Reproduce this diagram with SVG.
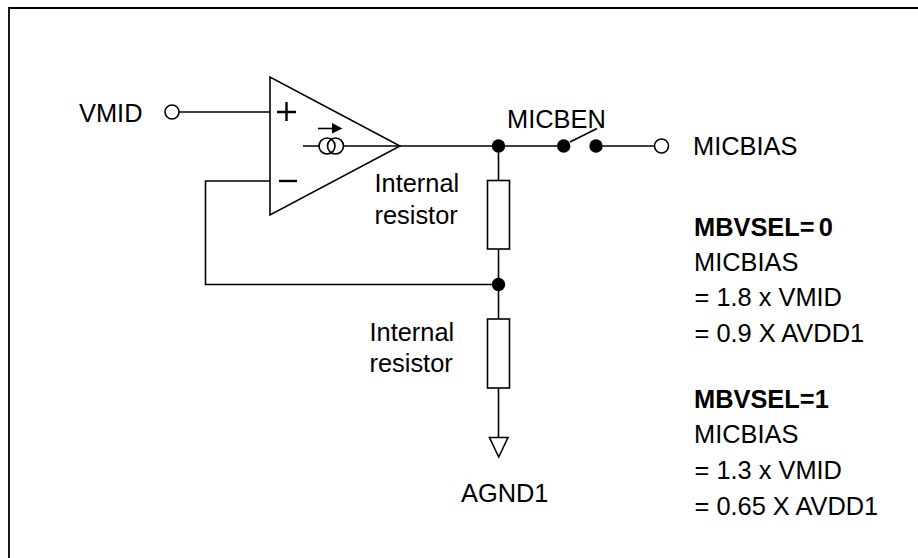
<svg xmlns="http://www.w3.org/2000/svg" width="918" height="558" viewBox="0 0 918 558">
<style>
.l{fill:none;stroke:#000;stroke-width:1.6}
.t{fill:none;stroke:#000;stroke-width:2.4}
.o{fill:#fff;stroke:#000;stroke-width:1.6}
.d{fill:#000}
text{font-family:"Liberation Sans",Arial,sans-serif;font-size:25.4px;fill:#000}
.b{font-weight:bold}
</style>
<rect width="918" height="558" fill="#fff"/>
<path class="l" d="M9 558V8H918" style="stroke-width:1.8"/>
<g id="connectors">
<path class="l" d="M179 112H270"/>
<path class="l" d="M270 181H205.500V284.500H499"/>
<path class="l" d="M303 146H319M344 146H400"/>
<path class="l" d="M400 146H563"/>
<path class="l" d="M596 146H654"/>
<path class="l" d="M498.500 146V181M498.500 249V319M498.500 388V437"/>
<path class="l" d="M570 142L597 128.500"/>
</g>
<g id="opamp">
<path class="l" d="M270 77V215L400 146Z"/>
<path class="t" d="M277 112H296M286.500 102V121"/>
<path class="t" d="M279 181H297"/>
<circle class="l" cx="327" cy="146" r="8"/>
<circle class="l" cx="335.500" cy="146" r="8"/>
<path class="l" d="M318 128.500H334"/>
<path class="d" d="M332 123L342.500 128.500L332 133.500Z"/>
</g>
<g id="vmid"><circle class="o" cx="172" cy="112" r="7"/><text x="79" y="122">VMID</text></g>
<g id="j1"><circle class="d" cx="498.500" cy="146" r="6.700"/></g>
<g id="j2"><circle class="d" cx="498.500" cy="284.500" r="6.700"/></g>
<g id="sw1"><circle class="d" cx="563.700" cy="146" r="6.700"/></g>
<g id="sw2"><circle class="d" cx="596" cy="146" r="6.700"/></g>
<g id="micbias-pin"><circle class="o" cx="661.500" cy="146" r="7"/></g>
<g id="r1"><rect class="o" x="487.500" y="180.500" width="22" height="68.500"/></g>
<g id="r2"><rect class="o" x="487.500" y="319" width="22" height="69"/></g>
<g id="gnd"><path class="o" d="M489.500 437.500H508L498.700 457Z"/><text x="461" y="502">AGND1</text></g>
<g id="labels">
<text x="507" y="128">MICBEN</text>
<text x="693" y="155">MICBIAS</text>
<text x="374.500" y="192">Internal</text>
<text x="374.500" y="224">resistor</text>
<text x="369.500" y="341">Internal</text>
<text x="369.500" y="372">resistor</text>
<text x="694" y="236" class="b">MBVSEL=<tspan dx="4">0</tspan></text>
<text x="694" y="271">MICBIAS</text>
<text x="694.500" y="306">= 1.8 x VMID</text>
<text x="694.500" y="342">= 0.9 X AVDD1</text>
<text x="694" y="408" class="b">MBVSEL=1</text>
<text x="694" y="443">MICBIAS</text>
<text x="694.500" y="479">= 1.3 x VMID</text>
<text x="694.500" y="515">= 0.65 X AVDD1</text>
</g>
</svg>
